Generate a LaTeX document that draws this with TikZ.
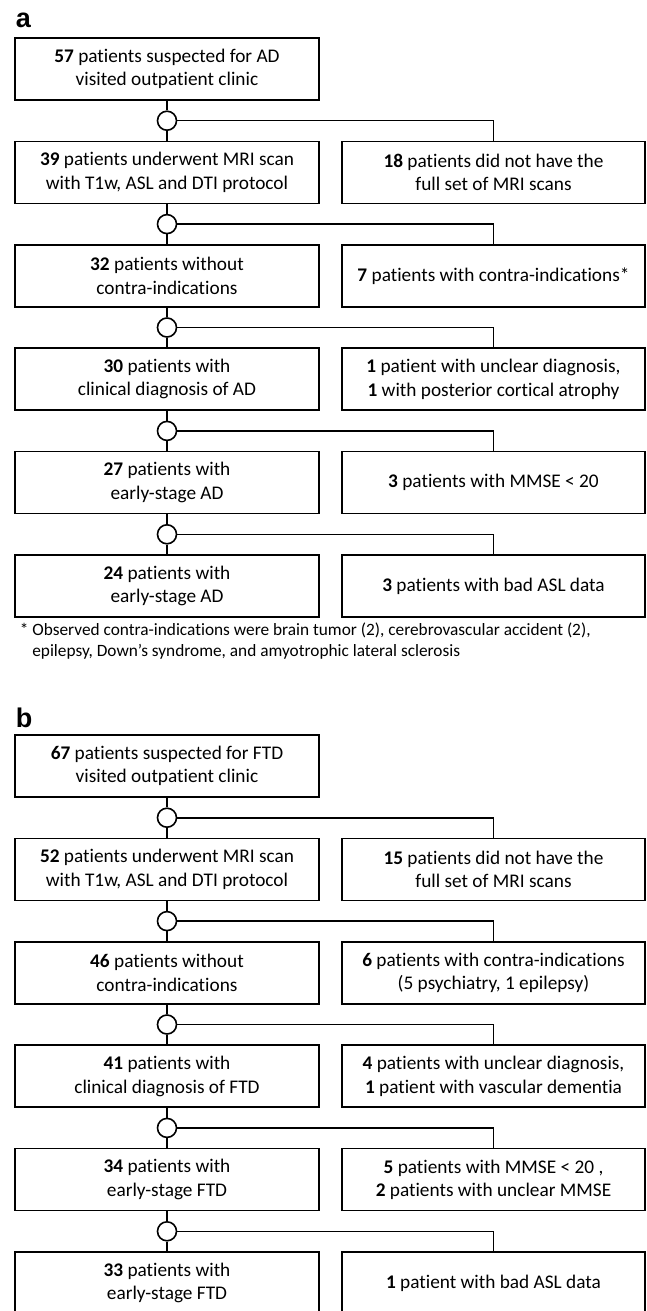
\documentclass[tikz,border=0pt]{standalone}
\usepackage{fontspec}
\setmainfont{Carlito}[Ligatures=NoCommon]
\newfontfamily\panelfont{Liberation Sans}

\begin{document}
\begin{tikzpicture}[x=1pt, y=-1pt, line width=1.6pt,
		leftbox/.style={draw, minimum width=304pt, minimum height=62pt, inner sep=0pt, align=center, font=\fontsize{19.3}{23.5}\selectfont},
		rightbox/.style={leftbox, minimum width=303pt},
		junction/.style={draw, circle, fill=white, minimum size=19pt, inner sep=0pt},
		panellabel/.style={anchor=base west, inner sep=0pt, font=\panelfont\bfseries\fontsize{27}{27}\selectfont}]
	\useasboundingbox (0,0) rectangle (646,1311);
	
	% === 图 a：AD 组 ===
	\node[panellabel] (la) at (15,28) {a};
	\begin{scope}
		% 左列：保留的患者
		\node[leftbox] (a1) at (167,69) {\textbf{57} patients suspected for AD\\visited outpatient clinic};
		\node[leftbox] (a2) at (167,172.4) {\textbf{39} patients underwent MRI scan\\with T1w, ASL and DTI protocol};
		\node[leftbox] (a3) at (167,275.8) {\textbf{32} patients without\\contra-indications};
		\node[leftbox] (a4) at (167,379.2) {\textbf{30} patients with\\clinical diagnosis of AD};
		\node[leftbox] (a5) at (167,482.6) {\textbf{27} patients with\\early-stage AD};
		\node[leftbox] (a6) at (167,586) {\textbf{24} patients with\\early-stage AD};
		
		% 右列：排除的患者
		\node[rightbox] (ar2) at (493.5,172.4) {\textbf{18} patients did not have the\\full set of MRI scans};
		\node[rightbox] (ar3) at (493.5,275.8) {\textbf{7} patients with contra-indications*};
		\node[rightbox] (ar4) at (493.5,379.2) {\textbf{1} patient with unclear diagnosis,\\\textbf{1} with posterior cortical atrophy};
		\node[rightbox] (ar5) at (493.5,482.6) {\textbf{3} patients with MMSE < 20};
		\node[rightbox] (ar6) at (493.5,586) {\textbf{3} patients with bad ASL data};
		
		% 分支点
		\node[junction] (ja1) at (167,120.7) {};
		\node[junction] (ja2) at (167,224.1) {};
		\node[junction] (ja3) at (167,327.5) {};
		\node[junction] (ja4) at (167,430.9) {};
		\node[junction] (ja5) at (167,534.3) {};
		
		% 连线
		\draw (a1) -- (ja1); \draw (ja1) -- (a2); \draw (ja1) -| (ar2);
		\draw (a2) -- (ja2); \draw (ja2) -- (a3); \draw (ja2) -| (ar3);
		\draw (a3) -- (ja3); \draw (ja3) -- (a4); \draw (ja3) -| (ar4);
		\draw (a4) -- (ja4); \draw (ja4) -- (a5); \draw (ja4) -| (ar5);
		\draw (a5) -- (ja5); \draw (ja5) -- (a6); \draw (ja5) -| (ar6);
		
		% 脚注
		\node[anchor=north west, inner sep=0pt, align=left, font=\fontsize{17.3}{21.5}\selectfont] (note) at (19,622)
			{* Observed contra-indications were brain tumor (2), cerebrovascular accident (2),\\
			\hphantom{*\ }epilepsy, Down’s syndrome, and amyotrophic lateral sclerosis};
	\end{scope}
	
	% === 图 b：FTD 组 ===
	\node[panellabel] (lb) at (15,727) {b};
	\begin{scope}[yshift=-697pt]
		% 左列：保留的患者
		\node[leftbox] (b1) at (167,69) {\textbf{67} patients suspected for FTD\\visited outpatient clinic};
		\node[leftbox] (b2) at (167,172.4) {\textbf{52} patients underwent MRI scan\\with T1w, ASL and DTI protocol};
		\node[leftbox] (b3) at (167,275.8) {\textbf{46} patients without\\contra-indications};
		\node[leftbox] (b4) at (167,379.2) {\textbf{41} patients with\\clinical diagnosis of FTD};
		\node[leftbox] (b5) at (167,482.6) {\textbf{34} patients with\\early-stage FTD};
		\node[leftbox] (b6) at (167,586) {\textbf{33} patients with\\early-stage FTD};
		
		% 右列：排除的患者
		\node[rightbox] (br2) at (493.5,172.4) {\textbf{15} patients did not have the\\full set of MRI scans};
		\node[rightbox] (br3) at (493.5,275.8) {\textbf{6} patients with contra-indications\\(5 psychiatry, 1 epilepsy)};
		\node[rightbox] (br4) at (493.5,379.2) {\textbf{4} patients with unclear diagnosis,\\\textbf{1} patient with vascular dementia};
		\node[rightbox] (br5) at (493.5,482.6) {\textbf{5} patients with MMSE < 20 ,\\\textbf{2} patients with unclear MMSE};
		\node[rightbox] (br6) at (493.5,586) {\textbf{1} patient with bad ASL data};
		
		% 分支点
		\node[junction] (jb1) at (167,120.7) {};
		\node[junction] (jb2) at (167,224.1) {};
		\node[junction] (jb3) at (167,327.5) {};
		\node[junction] (jb4) at (167,430.9) {};
		\node[junction] (jb5) at (167,534.3) {};
		
		% 连线
		\draw (b1) -- (jb1); \draw (jb1) -- (b2); \draw (jb1) -| (br2);
		\draw (b2) -- (jb2); \draw (jb2) -- (b3); \draw (jb2) -| (br3);
		\draw (b3) -- (jb3); \draw (jb3) -- (b4); \draw (jb3) -| (br4);
		\draw (b4) -- (jb4); \draw (jb4) -- (b5); \draw (jb4) -| (br5);
		\draw (b5) -- (jb5); \draw (jb5) -- (b6); \draw (jb5) -| (br6);
	\end{scope}
\end{tikzpicture}
\end{document}
